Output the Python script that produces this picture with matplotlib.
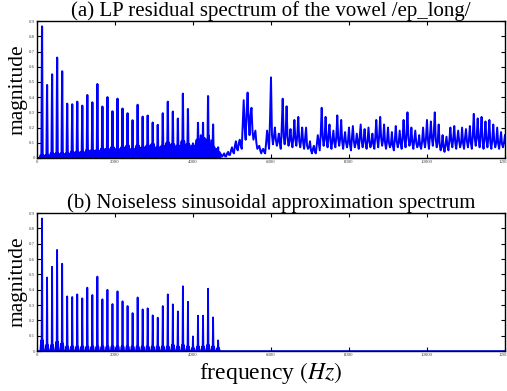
import matplotlib
matplotlib.use("Agg")
import matplotlib.pyplot as plt
import numpy as np

plt.rcParams['font.family'] = ['Liberation Serif', 'DejaVu Serif']
plt.rcParams['mathtext.fontset'] = 'stix'

# ---- data ----
F0 = 129.0                     # pitch (Hz), harmonic spacing
harm_k = np.arange(1, 37)      # harmonic numbers 1..36
harm_amp = [0.865, 0.48, 0.55, 0.66, 0.57, 0.357, 0.353, 0.37, 0.344, 0.414,
            0.366, 0.486, 0.338, 0.40, 0.307, 0.39, 0.325, 0.294, 0.248, 0.35,
            0.272, 0.279, 0.233, 0.218, 0.294, 0.37, 0.305, 0.259, 0.423, 0.322,
            0.096, 0.231, 0.231, 0.407, 0.22, 0.07]
# sidelobe height around each harmonic in (b)
side_amp = [0.07, 0.04, 0.04, 0.06, 0.05, 0.03, 0.03, 0.03, 0.03, 0.03,
            0.03, 0.03, 0.03, 0.03, 0.03, 0.03, 0.03, 0.03, 0.03, 0.03,
            0.03, 0.03, 0.03, 0.03, 0.03, 0.03, 0.04, 0.03, 0.04, 0.03,
            0.02, 0.03, 0.03, 0.04, 0.03, 0.02]
# residual floor between harmonics in (a)
floor_a = [0.02, 0.02, 0.03, 0.03, 0.03, 0.03, 0.04, 0.04, 0.04, 0.05,
           0.05, 0.05, 0.06, 0.06, 0.07, 0.06, 0.07, 0.08, 0.06, 0.08,
           0.07, 0.08, 0.09, 0.07, 0.08, 0.10, 0.09, 0.08, 0.11, 0.09,
           0.08, 0.12, 0.13, 0.12, 0.07, 0.03]
# noisy residual above 4 kHz in (a), every 25 Hz (one row = 300 Hz)
noise_f = np.arange(4000, 12001, 25)
noise_mag = [
    0.08, 0.05, 0.04, 0.10,  0.12, 0.07, 0.06, 0.11,  0.15, 0.09, 0.07, 0.12,  # 4000
    0.13, 0.08, 0.06, 0.11,  0.15, 0.10, 0.07, 0.09,  0.12, 0.06, 0.05, 0.04,  # 4300
    0.06, 0.03, 0.02, 0.04,  0.03, 0.02, 0.01, 0.02,  0.03, 0.01, 0.01, 0.03,  # 4600
    0.04, 0.02, 0.02, 0.05,  0.07, 0.04, 0.03, 0.08,  0.11, 0.06, 0.05, 0.10,  # 4900
    0.12, 0.08, 0.06, 0.22,  0.38, 0.20, 0.12, 0.30,  0.43, 0.25, 0.15, 0.28,  # 5200
    0.33, 0.18, 0.12, 0.15,  0.18, 0.10, 0.06, 0.07,  0.08, 0.05, 0.03, 0.05,  # 5500
    0.06, 0.04, 0.03, 0.10,  0.18, 0.12, 0.06, 0.25,  0.53, 0.15, 0.09, 0.14,  # 5800
    0.20, 0.12, 0.08, 0.11,  0.16, 0.10, 0.06, 0.20,  0.39, 0.14, 0.09, 0.16,  # 6100
    0.34, 0.13, 0.08, 0.12,  0.19, 0.11, 0.07, 0.14,  0.25, 0.12, 0.08, 0.15,  # 6400
    0.27, 0.11, 0.07, 0.12,  0.20, 0.10, 0.06, 0.13,  0.20, 0.08, 0.06, 0.07,  # 6700
    0.11, 0.05, 0.03, 0.06,  0.08, 0.04, 0.03, 0.09,  0.15, 0.10, 0.05, 0.16,  # 7000
    0.33, 0.14, 0.08, 0.13,  0.27, 0.12, 0.07, 0.15,  0.22, 0.11, 0.06, 0.12,  # 7300
    0.18, 0.10, 0.07, 0.14,  0.28, 0.12, 0.08, 0.13,  0.25, 0.11, 0.06, 0.12,  # 7600
    0.17, 0.10, 0.07, 0.11,  0.20, 0.09, 0.05, 0.13,  0.21, 0.11, 0.07, 0.10,  # 7900
    0.16, 0.10, 0.06, 0.14,  0.22, 0.11, 0.07, 0.12,  0.19, 0.10, 0.06, 0.11,  # 8200
    0.20, 0.11, 0.07, 0.10,  0.16, 0.09, 0.06, 0.14,  0.25, 0.12, 0.07, 0.15,  # 8500
    0.27, 0.13, 0.08, 0.12,  0.22, 0.10, 0.06, 0.11,  0.20, 0.10, 0.07, 0.09,  # 8800
    0.17, 0.08, 0.05, 0.12,  0.21, 0.11, 0.07, 0.10,  0.18, 0.10, 0.06, 0.14,  # 9100
    0.25, 0.12, 0.07, 0.16,  0.30, 0.13, 0.08, 0.11,  0.20, 0.10, 0.06, 0.12,  # 9400
    0.18, 0.10, 0.07, 0.09,  0.15, 0.08, 0.06, 0.11,  0.20, 0.11, 0.07, 0.13,  # 9700
    0.25, 0.12, 0.06, 0.14,  0.24, 0.13, 0.08, 0.16,  0.30, 0.12, 0.07, 0.11,  # 10000
    0.22, 0.09, 0.05, 0.08,  0.15, 0.07, 0.04, 0.09,  0.14, 0.08, 0.05, 0.12,  # 10300
    0.20, 0.11, 0.07, 0.13,  0.21, 0.10, 0.06, 0.12,  0.18, 0.11, 0.07, 0.10,  # 10600
    0.20, 0.10, 0.06, 0.13,  0.19, 0.11, 0.07, 0.12,  0.21, 0.10, 0.06, 0.15,  # 10900
    0.29, 0.13, 0.08, 0.14,  0.26, 0.12, 0.07, 0.16,  0.27, 0.11, 0.06, 0.13,  # 11200
    0.24, 0.12, 0.07, 0.14,  0.25, 0.10, 0.06, 0.12,  0.22, 0.11, 0.07, 0.10,  # 11500
    0.20, 0.10, 0.06, 0.11,  0.17, 0.09, 0.07, 0.10,                          # 11800
    0.15]

harm_f = harm_k * F0
BLUE = '#0000ff'


def harmonic_path(amps, lows, gap):
    """polyline: low bump, narrow peak, low bump, for every harmonic"""
    xs, ys = [0.0], [0.0]
    for f, a, s in zip(harm_f, amps, lows):
        xs += [f - 2 * gap, f - gap, f - 0.5 * gap, f, f + 0.5 * gap, f + gap, f + 2 * gap]
        ys += [0.0, s, 0.003, a, 0.003, s, 0.0]
    return xs, ys


def style_axes(ax, title):
    ax.set_xlim(0, 12000)
    ax.set_ylim(0, 0.9)
    ax.set_xticks(np.arange(0, 12001, 2000))
    ax.set_yticks(np.arange(0, 0.91, 0.1))
    ax.set_yticklabels(['0', '0.1', '0.2', '0.3', '0.4', '0.5', '0.6', '0.7', '0.8', '0.9'])
    ax.tick_params(direction='in', top=True, right=True, length=3, width=0.8,
                   labelsize=3.5, labelcolor='#444444', pad=1.5)
    for sp in ax.spines.values():
        sp.set_linewidth(1.0)
    ax.set_title(title, fontsize=15, pad=4)
    ax.set_ylabel('magnitude', fontsize=15.5, labelpad=1)


fig = plt.figure(figsize=(5.07, 3.91), dpi=100, facecolor='white')

# ---- (a) LP residual ----
ax1 = fig.add_axes([0.073, 0.596, 0.923, 0.350])
xa, ya = harmonic_path(harm_amp, floor_a, 32)
ax1.plot(xa, ya, color=BLUE, lw=1.5)
ax1.plot(noise_f, noise_mag, color=BLUE, lw=1.4)
style_axes(ax1, '(a) LP residual spectrum of the vowel /ep_long/')

# ---- (b) sinusoidal approximation ----
ax2 = fig.add_axes([0.073, 0.102, 0.923, 0.353])
xb, yb = harmonic_path(harm_amp, side_amp, 22)
xb += [12000]
yb += [0.0]
ax2.plot(xb, yb, color=BLUE, lw=1.3)
style_axes(ax2, '(b) Noiseless sinusoidal approximation spectrum')
ax2.set_xlabel(r'frequency $(Hz)$', fontsize=17, labelpad=2)

fig.savefig('out.png', dpi=100, facecolor='white')
